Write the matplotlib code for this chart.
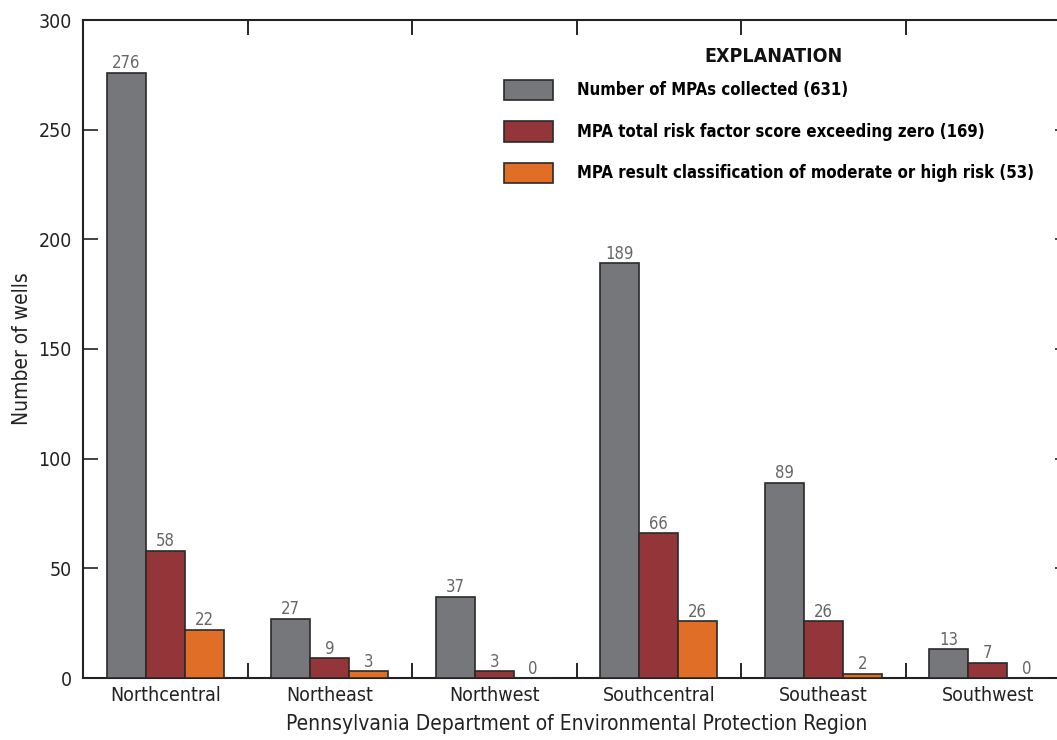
import numpy as np
import matplotlib.pyplot as plt

regions = ['Northcentral', 'Northeast', 'Northwest', 'Southcentral', 'Southeast', 'Southwest']
collected = [276, 27, 37, 189, 89, 13]
risk_above_zero = [58, 9, 3, 66, 26, 7]
moderate_high = [22, 3, 0, 26, 2, 0]

series_labels = [
    'Number of MPAs collected (631)',
    'MPA total risk factor score exceeding zero (169)',
    'MPA result classification of moderate or high risk (53)',
]
colors = ['#76777b', '#943639', '#e06e26']

plt.rcParams['font.family'] = ['DejaVu Sans']
plt.rcParams['font.stretch'] = 'condensed'

fig = plt.figure(figsize=(10.57, 7.4), dpi=100)
ax = fig.add_axes([83 / 1057, 62 / 740, (1070 - 83) / 1057, (678 - 20) / 740])

x = np.arange(len(regions))
width = 0.237
for i, (vals, col) in enumerate(zip([collected, risk_above_zero, moderate_high], colors)):
    pos = x + (i - 1) * width
    ax.bar(pos, vals, width=width, color=col, edgecolor='#2a2a2a', linewidth=1.2,
           label=series_labels[i], zorder=3)
    for p, v in zip(pos, vals):
        ax.text(p, v + 0.2, str(v), ha='center', va='bottom', fontsize=12, color='#666666')

ax.set_xlim(-0.5, len(regions) - 0.5)
ax.set_ylim(0, 300)
ax.set_yticks(np.arange(0, 301, 50))
ax.set_xticks(x)
ax.set_xticklabels(regions)
ax.tick_params(axis='x', length=0, labelsize=14, pad=6, colors='#222222')
ax.tick_params(axis='y', direction='in', length=10.5, width=1.2, labelsize=14,
               right=True, pad=8, colors='#222222')
ax.set_xticks(np.arange(0.5, len(regions) - 0.5, 1), minor=True)
ax.tick_params(axis='x', which='minor', direction='in', length=10.5, width=1.2,
               top=True, bottom=True)
for s in ax.spines.values():
    s.set_linewidth(1.5)
    s.set_color('#222222')

ax.set_ylabel('Number of wells', fontsize=15, labelpad=5, color='#222222')
ax.set_xlabel('Pennsylvania Department of Environmental Protection Region',
              fontsize=15, labelpad=6, color='#222222')

# explanation block: heading drawn separately so its gap to the rows can be set
ax.text(0.7, 0.944, 'EXPLANATION', transform=ax.transAxes, ha='center', va='center',
        fontsize=14, fontweight='bold', color='#111111')
leg = ax.legend(loc='upper left', bbox_to_anchor=(0.4184, 0.922), frameon=False,
                borderpad=0, prop={'weight': 'bold', 'size': 12},
                handlelength=2.9, handleheight=1.53, handletextpad=1.44,
                labelspacing=1.25)
for h in leg.legend_handles:
    h.set_edgecolor('#2a2a2a')

fig.savefig('out.png', dpi=100)
